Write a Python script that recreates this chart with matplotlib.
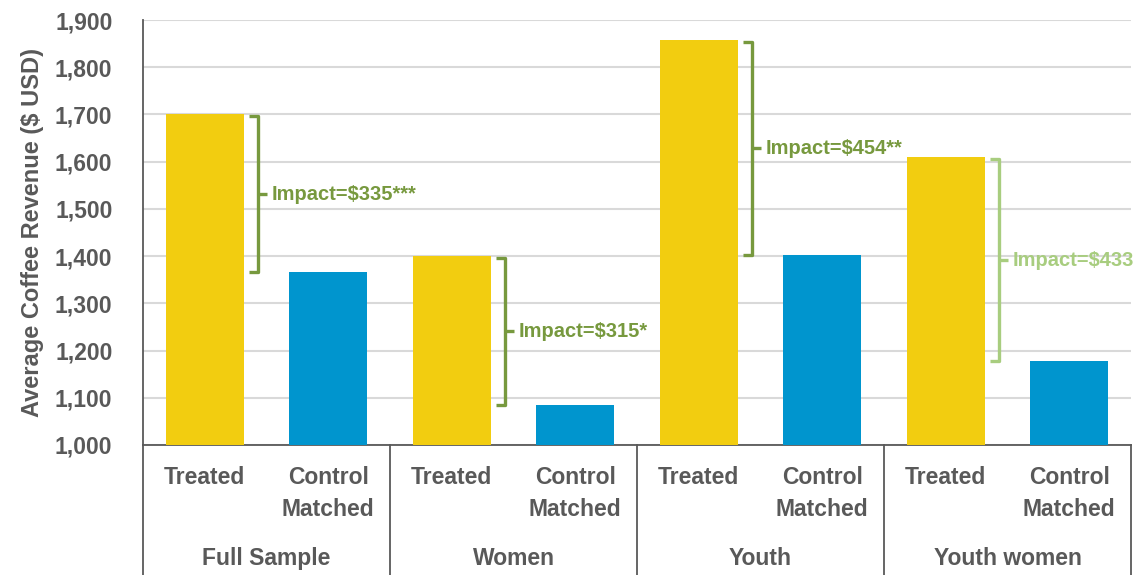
import numpy as np
import matplotlib.pyplot as plt
from matplotlib.transforms import blended_transform_factory

plt.rcParams['font.family'] = ['Liberation Sans', 'DejaVu Sans']
plt.rcParams['font.weight'] = 'bold'

groups = ["Full Sample", "Women", "Youth", "Youth women"]
bar_labels = ["Treated", "Control\nMatched"]
treated = [1700, 1400, 1857, 1610]
control = [1366, 1085, 1403, 1177]
impact_labels = ["Impact=$335***", "Impact=$315*", "Impact=$454**", "Impact=$433"]

yellow = "#F2CD10"
blue = "#0095CE"
green = "#77993E"
light_green = "#A8CD7F"
grey = "#595959"
bracket_colors = [green, green, green, light_green]

fig = plt.figure(figsize=(11.36, 5.75), dpi=100)
ax = fig.add_axes([0.1259, 0.2261, 0.8697, 0.7391])

x_t = np.arange(len(groups)) * 2
x_c = x_t + 1
width = 0.63
ax.bar(x_t, np.array(treated) - 1000, bottom=1000, width=width, color=yellow, zorder=3)
ax.bar(x_c, np.array(control) - 1000, bottom=1000, width=width, color=blue, zorder=3)

ax.set_xlim(-0.5, 7.5)
ax.set_ylim(1000, 1900)
ax.set_yticks(np.arange(1000, 1901, 100))
ax.set_yticklabels([f"{v:,}" for v in range(1000, 1901, 100)])
ax.tick_params(axis='y', length=0, labelsize=16.5, labelcolor=grey, pad=22)
ax.set_xticks([])
ax.grid(axis='y', color="#D9D9D9", linewidth=1.5, zorder=0)
for s in ["top", "right"]:
    ax.spines[s].set_visible(False)
ax.spines["left"].set_color(grey)
ax.spines["bottom"].set_color(grey)
ax.spines["left"].set_linewidth(1.3)
ax.spines["bottom"].set_linewidth(1.3)
ax.set_ylabel("Average Coffee Revenue ($ USD)", fontsize=17, fontweight='bold',
              color=grey, labelpad=8)

# impact brackets
for i in range(len(groups)):
    xv = x_t[i] + 0.43
    xl = x_t[i] + 0.36
    top = treated[i] - 4
    bot = control[i]
    mid = (top + bot) / 2
    c = bracket_colors[i]
    ax.plot([xl, xv, xv, xl], [top, top, bot, bot], color=c, lw=2.4,
            solid_joinstyle='round', solid_capstyle='butt', zorder=4)
    ax.plot([xv, xv + 0.07], [mid, mid], color=c, lw=2.4, solid_capstyle='butt', zorder=4)
    ax.text(xv + 0.11, mid, impact_labels[i], color=c, fontsize=14.5,
            va='center', ha='left', zorder=5, clip_on=False)

# two-level category axis
trans = blended_transform_factory(ax.transData, ax.transAxes)
for i, g in enumerate(groups):
    ax.text(x_t[i], -0.05, bar_labels[0], transform=trans, ha='center', va='top',
            fontsize=16.5, color=grey, linespacing=1.5)
    ax.text(x_c[i], -0.05, bar_labels[1], transform=trans, ha='center', va='top',
            fontsize=16.5, color=grey, linespacing=1.5)
    ax.text(x_t[i] + 0.5, -0.266, g, transform=trans, ha='center', va='center',
            fontsize=16.5, color=grey)
for xs in np.arange(len(groups) + 1) * 2 - 0.5:
    ax.plot([xs, xs], [0, -0.32], transform=trans, color=grey, lw=1.3, clip_on=False)

fig.savefig("out.png", dpi=100)
